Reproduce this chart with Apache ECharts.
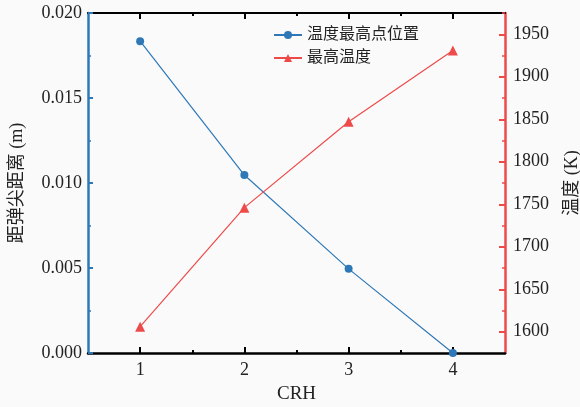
<!DOCTYPE html>
<html>
<head>
<meta charset="utf-8">
<script src="https://cdn.jsdelivr.net/npm/echarts@6/dist/echarts.min.js"></script>
<style>html,body{margin:0;padding:0;background:#fafafa;}#c{width:580px;height:407px;}</style>
</head>
<body>
<div id="c"></div>
<script>
const crh = [1, 2, 3, 4];
const distance = [0.01834, 0.01047, 0.00495, 0.0];
const maxTemp = [1606, 1746, 1847, 1931];
const xLabels = [1, 2, 3, 4];
const xMinor = [1.5, 2.5, 3.5];
const tempLabels = [1600, 1650, 1700, 1750, 1800, 1850, 1900, 1950];
const tempMinor = [1625, 1675, 1725, 1775, 1825, 1875, 1925, 1975];
const seriesNames = ['温度最高点位置', '最高温度'];

const FONT = '"Liberation Serif", "Noto Sans CJK SC", serif';
const BLUE = '#2e78b7';
const RED = '#ee4a4a';
const TICK_FS = 18;

const chart = echarts.init(document.getElementById('c'), null, {renderer: 'canvas'});
chart.setOption({
  backgroundColor: '#fafafa',
  animation: false,
  textStyle: {fontFamily: FONT},
  grid: {left: 88, right: 75, top: 13, bottom: 54, containLabel: false, outerBoundsMode: 'none'},
  legend: {
    orient: 'vertical', left: 268, top: 22, itemGap: 7, itemWidth: 28, itemHeight: 10,
    textStyle: {fontFamily: FONT, fontSize: 16, color: '#222'},
    data: seriesNames
  },
  xAxis: [
    {type: 'value', position: 'bottom', min: 0.5, max: 4.5,
     name: 'CRH', nameLocation: 'middle', nameGap: 32,
     nameTextStyle: {fontFamily: FONT, fontSize: 19, color: '#222'},
     axisLine: {lineStyle: {color: '#000', width: 2.5}},
     axisTick: {inside: true, length: 6, lineStyle: {color: '#000', width: 2}, customValues: xLabels},
     axisLabel: {customValues: xLabels, margin: 8, fontFamily: FONT, fontSize: TICK_FS, color: '#222'},
     splitLine: {show: false}},
    {type: 'value', position: 'bottom', min: 0.5, max: 4.5,
     axisLine: {show: false},
     axisTick: {inside: true, length: 3, lineStyle: {color: '#000', width: 2}, customValues: xMinor},
     axisLabel: {show: false}, splitLine: {show: false}},
    {type: 'value', position: 'top', min: 0.5, max: 4.5,
     axisLine: {lineStyle: {color: '#000', width: 2}},
     axisTick: {inside: true, length: 6, lineStyle: {color: '#000', width: 2}, customValues: xLabels},
     axisLabel: {show: false}, splitLine: {show: false}},
    {type: 'value', position: 'top', min: 0.5, max: 4.5,
     axisLine: {show: false},
     axisTick: {inside: true, length: 3, lineStyle: {color: '#000', width: 2}, customValues: xMinor},
     axisLabel: {show: false}, splitLine: {show: false}}
  ],
  yAxis: [
    {type: 'value', position: 'left', min: 0, max: 0.02, interval: 0.005,
     name: '距弹尖距离 (m)', nameLocation: 'middle', nameGap: 62, nameRotate: 90,
     nameTextStyle: {fontFamily: FONT, fontSize: 18, color: '#222'},
     axisLine: {show: true, lineStyle: {color: BLUE, width: 2.5}},
     axisTick: {show: true, inside: true, length: 5, lineStyle: {color: BLUE, width: 2}},
     minorTick: {show: true, splitNumber: 2, length: 3, lineStyle: {color: BLUE, width: 1.5}},
     axisLabel: {margin: 6, fontFamily: FONT, fontSize: TICK_FS, color: '#222', formatter: v => v.toFixed(3)},
     splitLine: {show: false}},
    {type: 'value', position: 'right', min: 1575, max: 1975,
     name: '温度 (K)', nameLocation: 'middle', nameGap: 58, nameRotate: 90,
     nameTextStyle: {fontFamily: FONT, fontSize: 18, color: '#222'},
     axisLine: {show: true, lineStyle: {color: RED, width: 2.5}},
     axisTick: {show: true, inside: true, length: 6, lineStyle: {color: RED, width: 2}, customValues: tempLabels},
     axisLabel: {customValues: tempLabels, margin: 8, fontFamily: FONT, fontSize: TICK_FS, color: '#222', formatter: v => String(v)},
     splitLine: {show: false}},
    {type: 'value', position: 'right', min: 1575, max: 1975,
     axisLine: {show: false},
     axisTick: {show: true, inside: true, length: 3, lineStyle: {color: RED, width: 1.5}, customValues: tempMinor},
     axisLabel: {show: false}, splitLine: {show: false}}
  ],
  series: [
    {name: seriesNames[0], type: 'line', xAxisIndex: 0, yAxisIndex: 0,
     data: crh.map((x, i) => [x, distance[i]]),
     symbol: 'circle', symbolSize: 8, showAllSymbol: true,
     lineStyle: {color: BLUE, width: 1.2}, itemStyle: {color: BLUE}},
    {name: seriesNames[1], type: 'line', xAxisIndex: 0, yAxisIndex: 1,
     data: crh.map((x, i) => [x, maxTemp[i]]),
     symbol: 'triangle', symbolSize: 10, showAllSymbol: true,
     lineStyle: {color: RED, width: 1.2}, itemStyle: {color: RED}}
  ]
});
</script>
</body>
</html>
